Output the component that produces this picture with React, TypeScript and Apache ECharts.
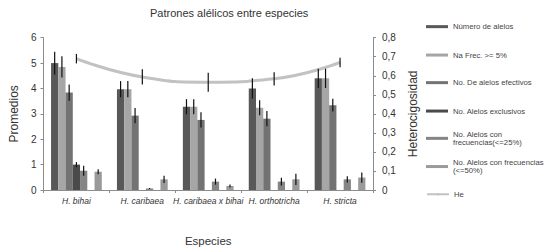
import React, { useEffect, useRef } from "react";
import * as echarts from "echarts";

const categories = ["H. bihai", "H. caribaea", "H. caribaea x bihai", "H. orthotricha", "H. stricta"];

const numeroAlelos = [5.0, 3.97, 3.28, 4.0, 4.4];
const naFrec5 = [4.85, 3.97, 3.28, 3.24, 4.4];
const alelosEfectivos = [3.84, 2.93, 2.76, 2.81, 3.34];
const alelosExclusivos = [1.0, 0, 0, 0, 0];
const frec25 = [0.76, 0.06, 0.33, 0.33, 0.42];
const frec50 = [0.72, 0.42, 0.16, 0.42, 0.49];
const he = [0.69, 0.594, 0.566, 0.584, 0.67];

const errNumero = [0.45, 0.32, 0.3, 0.4, 0.38];
const errNaFrec = [0.42, 0.32, 0.3, 0.3, 0.38];
const errEfectivos = [0.32, 0.3, 0.3, 0.3, 0.25];
const errExclusivos = [0.1, 0, 0, 0, 0];
const errFrec25 = [0.2, 0.02, 0.12, 0.15, 0.12];
const errFrec50 = [0.1, 0.14, 0.06, 0.22, 0.2];
const errHe = [0.025, 0.04, 0.05, 0.035, 0.025];

const leftTicks = [0, 6, 1];
const rightTicks = [0, 0.8, 0.1];

const FONT = "'Liberation Sans', Arial, sans-serif";
const CAT_GAP = 0.23;
const SLOTS = 7;

const barDefs = [
  { name: "Número de alelos", data: numeroAlelos, err: errNumero, color: "#585858", slot: 0 },
  { name: "Na Frec. >= 5%", data: naFrec5, err: errNaFrec, color: "#a6a6a6", slot: 1 },
  { name: "No. De alelos efectivos", data: alelosEfectivos, err: errEfectivos, color: "#737373", slot: 2 },
  { name: "No. Alelos exclusivos", data: alelosExclusivos, err: errExclusivos, color: "#4a4a4a", slot: 3 },
  { name: "No. Alelos con frecuencias(<=25%)", data: frec25, err: errFrec25, color: "#858585", slot: 4 },
  { name: "No. Alelos con frecuencias (<=50%)", data: frec50, err: errFrec50, color: "#9a9a9a", slot: 6 },
];

export default function App() {
  const ref = useRef<HTMLDivElement>(null);
  useEffect(() => {
    if (!ref.current) return;
    const chart = echarts.init(ref.current, null, { renderer: "svg" });

    const barSeries: any[] = [];
    barDefs.forEach((d, i) => {
      barSeries.push({
        type: "bar",
        name: d.name,
        data: d.data,
        barGap: "0%",
        barCategoryGap: CAT_GAP * 100 + "%",
        itemStyle: { color: d.color },
      });
      if (i === 4) {
        barSeries.push({
          type: "bar",
          name: "blank",
          data: categories.map(() => null),
          barGap: "0%",
          barCategoryGap: CAT_GAP * 100 + "%",
        });
      }
    });

    const errData: any[] = [];
    barDefs.forEach((d) => {
      d.data.forEach((v, i) => {
        errData.push([i, v, d.err[i], d.slot]);
      });
    });

    const legendItems = [
      { name: "Número de alelos", top: 22.4 },
      { name: "Na Frec. >= 5%", top: 50.8 },
      { name: "No. De alelos efectivos", top: 78.4 },
      { name: "No. Alelos exclusivos", top: 106.8 },
      { name: "No. Alelos con frecuencias(<=25%)", top: 125.6, lines: "No. Alelos con\nfrecuencias(<=25%)" },
      { name: "No. Alelos con frecuencias (<=50%)", top: 153.8, lines: "No. Alelos con frecuencias\n(<=50%)" },
      { name: "He", top: 190 },
    ];

    const legends = legendItems.map((it: any) => ({
      data: [it.name],
      left: 426,
      top: it.top,
      orient: "vertical",
      padding: 0,
      itemWidth: 22,
      itemHeight: 3,
      itemGap: 0,
      icon: it.name === "He" ? undefined : "rect",
      formatter: it.lines ? () => it.lines : undefined,
      textStyle: {
        fontFamily: FONT,
        fontSize: 7.7,
        lineHeight: 8.5,
        color: "#444",
        padding: it.lines ? [8.5, 0, 0, 0] : 0,
      },
    }));

    chart.setOption({
      animation: false,
      backgroundColor: "#ffffff",
      title: {
        text: "Patrones alélicos entre especies",
        left: 150,
        top: 7,
        padding: 0,
        textStyle: { fontFamily: FONT, fontSize: 11, fontWeight: "normal", color: "#333" },
      },
      legend: legends,
      grid: { left: 37, right: 179, top: 37.7, bottom: 60.3 },
      xAxis: {
        type: "category",
        data: categories,
        name: "Especies",
        nameLocation: "middle",
        nameGap: 45,
        nameTextStyle: { fontFamily: FONT, fontSize: 11.5, color: "#333" },
        axisLine: { lineStyle: { color: "#8c8c8c" } },
        axisTick: { show: true, length: 3, lineStyle: { color: "#8c8c8c" } },
        axisLabel: { interval: 0, fontFamily: FONT, fontSize: 8.5, fontStyle: "italic", color: "#333", margin: 6 },
      },
      yAxis: [
        {
          type: "value",
          min: leftTicks[0],
          max: leftTicks[1],
          interval: leftTicks[2],
          name: "Promedios",
          nameLocation: "middle",
          nameGap: 19,
          nameRotate: 90,
          nameTextStyle: { fontFamily: FONT, fontSize: 12, color: "#333" },
          axisLine: { show: true, lineStyle: { color: "#8c8c8c" } },
          axisTick: { show: true, length: 3, lineStyle: { color: "#8c8c8c" } },
          axisLabel: { fontFamily: FONT, fontSize: 10, color: "#333", margin: 7 },
          splitLine: { show: false },
        },
        {
          type: "value",
          position: "right",
          min: rightTicks[0],
          max: rightTicks[1],
          interval: rightTicks[2],
          name: "Heterocigosidad",
          nameLocation: "middle",
          nameGap: 34,
          nameRotate: 90,
          nameTextStyle: { fontFamily: FONT, fontSize: 12, color: "#333" },
          axisLine: { show: true, lineStyle: { color: "#8c8c8c" } },
          axisTick: { show: true, length: 3, lineStyle: { color: "#8c8c8c" } },
          axisLabel: {
            fontFamily: FONT,
            fontSize: 10,
            color: "#333",
            margin: 9,
            formatter: (v: number) => (v === 0 ? "0" : v.toFixed(1).replace(".", ",")),
          },
          splitLine: { show: false },
        },
      ],
      series: [
        ...barSeries,
        {
          type: "line",
          name: "He",
          yAxisIndex: 1,
          data: he,
          smooth: 0.5,
          symbol: "none",
          lineStyle: { color: "#c2c2c2", width: 3 },
          itemStyle: { color: "#c2c2c2" },
          z: 3,
        },
        {
          type: "custom",
          name: "errBars",
          data: errData,
          encode: { x: 0, y: 1 },
          z: 5,
          renderItem: (params: any, api: any) => {
            const ci = api.value(0);
            const v = api.value(1);
            const e = api.value(2);
            const slot = api.value(3);
            if (!(e > 0)) return null;
            const band = api.size([1, 0])[0];
            const groupW = band * (1 - CAT_GAP);
            const bw = groupW / SLOTS;
            const c = api.coord([ci, v]);
            const x = c[0] - groupW / 2 + (slot + 0.5) * bw;
            const y1 = api.coord([ci, v + e])[1];
            const y2 = api.coord([ci, Math.max(0, v - e)])[1];
            return {
              type: "line",
              shape: { x1: x, y1, x2: x, y2 },
              style: { stroke: "#111", lineWidth: 1.2 },
            };
          },
        },
        {
          type: "custom",
          name: "errHe",
          yAxisIndex: 1,
          data: he.map((v, i) => [i, v, errHe[i]]),
          encode: { x: 0, y: 1 },
          z: 6,
          renderItem: (params: any, api: any) => {
            const ci = api.value(0);
            const v = api.value(1);
            const e = api.value(2);
            const p1 = api.coord([ci, v + e]);
            const p2 = api.coord([ci, v - e]);
            return {
              type: "line",
              shape: { x1: p1[0], y1: p1[1], x2: p2[0], y2: p2[1] },
              style: { stroke: "#111", lineWidth: 1.2 },
            };
          },
        },
      ],
    });
    return () => chart.dispose();
  }, []);
  return (
    <div
      ref={ref}
      style={{ position: "fixed", left: 0, top: 0, width: 552, height: 252 }}
    />
  );
}
